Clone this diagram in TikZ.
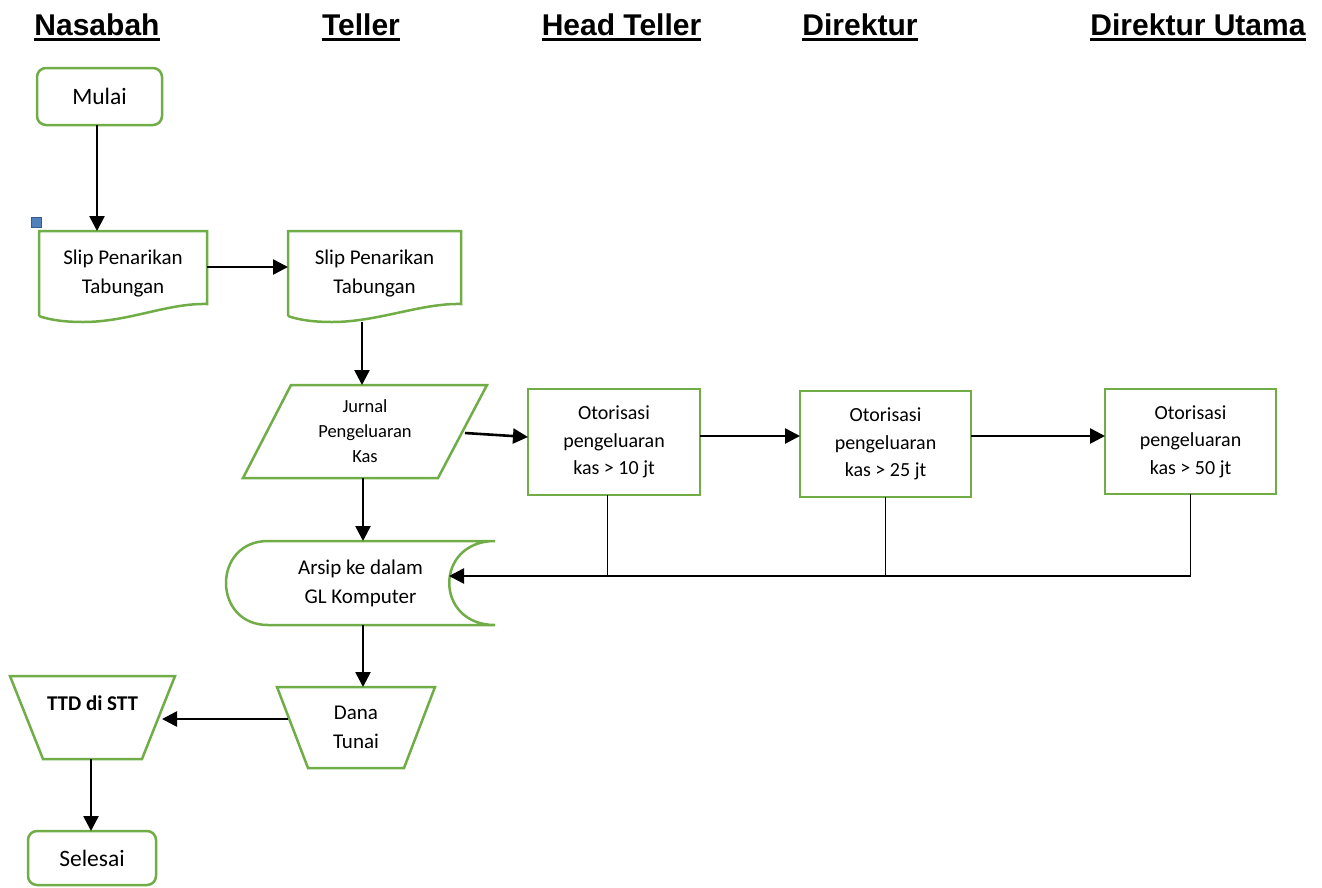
\documentclass[tikz,border=0pt]{standalone}
\usepackage{fontspec}
\setmainfont{Carlito}
\newfontfamily\headfont{Liberation Sans}
\usetikzlibrary{arrows.meta,calc}
\definecolor{grn}{RGB}{112,173,71}
\definecolor{hblue}{RGB}{79,129,189}
\definecolor{hblued}{RGB}{56,93,138}
\newcommand{\docpath}[1]{%
  \draw[gline] (#1.south west) -- (#1.north west) -- (#1.north east) -- ($(#1.south east)+(0,-12)$)
    .. controls ($(#1.south east)+(-40,-13)$) and ($(#1.south west)+(90,6)$) .. ($(#1.south west)+(44,6)$)
    .. controls ($(#1.south west)+(26,6)$) and ($(#1.south west)+(11,4)$) .. (#1.south west);}
\begin{document}
\begin{tikzpicture}[x=1pt,y=-1pt,
  hd/.style={font=\headfont\bfseries\fontsize{30}{36}\selectfont, inner sep=0pt, anchor=base},
  shp/.style={draw=none, inner sep=0pt, outer sep=0pt, align=center, font=\fontsize{21}{29}\selectfont},
  gline/.style={draw=grn, line width=2.5pt, line join=miter},
  term/.style={shp, draw=grn, line width=2.5pt, rounded corners=9pt, font=\fontsize{23.5}{29}\selectfont},
  proc/.style={shp, draw=grn, line width=2.5pt, font=\fontsize{20}{27.5}\selectfont},
  arr/.style={draw=black, line width=2.6pt, -{Triangle[length=15pt,width=15pt]}},
  thinln/.style={draw=black, line width=1pt}]
\useasboundingbox (0,0) rectangle (1322,887);

% headings
\node[hd] (h1) at (97,35) {Nasabah};
\node[hd] (h2) at (361,35) {Teller};
\node[hd] (h3) at (621.5,35) {Head Teller};
\node[hd] (h4) at (860,35) {Direktur};
\node[hd] (h5) at (1198,35) {Direktur Utama};
\foreach \h in {h1,h2,h3,h4,h5}
  \draw[line width=3pt] ($(\h.base west)+(0,4)$) -- ($(\h.base east)+(0,4)$);

% nodes
\node[term, minimum width=125pt, minimum height=57pt] (mulai) at (99.5,96.5) {Mulai};
\node[fill=hblue, draw=hblued, line width=0.8pt, minimum size=10pt, inner sep=0pt] (hdl) at (36.5,222.5) {};

\node[shp, minimum width=168pt, minimum height=85pt] (s1) at (123,273.5) {Slip Penarikan\\Tabungan};
\docpath{s1}
\node[shp, minimum width=173pt, minimum height=85pt] (s2) at (374.5,273.5) {Slip Penarikan\\Tabungan};
\docpath{s2}

\node[shp, minimum width=244pt, minimum height=93pt, font=\fontsize{18.5}{25}\selectfont] (jur) at (365,431.5) {Jurnal\\Pengeluaran\\Kas};
\draw[gline] ($(jur.north west)+(48,0)$) -- (jur.north east) -- ($(jur.south east)+(-49,0)$) -- (jur.south west) -- cycle;

\node[proc, minimum width=172pt, minimum height=106pt] (o1) at (614,442) {Otorisasi\\pengeluaran\\kas > 10 jt};
\node[proc, minimum width=171pt, minimum height=106pt] (o2) at (885.5,444) {Otorisasi\\pengeluaran\\kas > 25 jt};
\node[proc, minimum width=171pt, minimum height=105pt] (o3) at (1190.5,441.5) {Otorisasi\\pengeluaran\\kas > 50 jt};

\node[shp, minimum width=269pt, minimum height=84pt] (ars) at (360.5,583) {Arsip ke dalam\\GL Komputer};
\draw[gline] ($(ars.north west)+(42,0)$) -- (ars.north east)
  .. controls ($(ars.north east)+(-61,0)$) and ($(ars.south east)+(-61,0)$) .. (ars.south east)
  -- ($(ars.south west)+(42,0)$)
  .. controls ($(ars.south west)+(-14,0)$) and ($(ars.north west)+(-14,0)$) .. ($(ars.north west)+(42,0)$) -- cycle;

\node[shp, minimum width=158pt, minimum height=81pt] (dana) at (356,727.5) {Dana\\Tunai};
\draw[gline] (dana.north west) -- (dana.north east) -- ($(dana.south east)+(-31,0)$) -- ($(dana.south west)+(31,0)$) -- cycle;

\node[shp, minimum width=165pt, minimum height=83pt, font=\bfseries\fontsize{21}{29}\selectfont] (ttd) at (92.5,717.5) {TTD di STT\\\mbox{}};
\draw[gline] (ttd.north west) -- (ttd.north east) -- ($(ttd.south east)+(-33,0)$) -- ($(ttd.south west)+(33,0)$) -- cycle;

\node[term, minimum width=128pt, minimum height=54pt] (sel) at (92,858) {Selesai};

% connectors
\draw[arr] ($(mulai.south)+(-2.5,0)$) -- ($(mulai.south |- s1.north)+(-2.5,0)$);
\draw[arr] ($(s1.east)+(0,-6.5)$) -- ($(s2.west)+(0,-6.5)$);
\draw[arr] ($(s2.south -| jur.north)+(-3,6)$) -- ($(jur.north)+(-3,0)$);
\draw[arr] ($(jur.east)+(-22,1.5)$) -- ($(o1.west)+(0,-5)$);
\draw[arr] ($(o1.east)+(0,-6)$) -- ($(o2.west)+(0,-8)$);
\draw[arr] ($(o2.east)+(0,-8)$) -- ($(o3.west)+(0,-5.5)$);
\coordinate (bus) at (1190.5,576);
\draw[thinln] ($(o1.south)+(-7,0)$) -- ++(0,81);
\draw[thinln] (o2.south) -- ++(0,79);
\draw[thinln] (o3.south) -- (bus);
\draw[arr] (bus) -- ($(ars.east)+(-46,-7)$);
\draw[arr] ($(jur.south)+(-2,0)$) -- ($(jur.south |- ars.north)+(-2,0)$);
\draw[arr] ($(ars.south)+(2.5,0)$) -- ($(ars.south |- dana.north)+(2.5,0)$);
\draw[arr] ($(dana.west)+(11,-8.5)$) -- ($(ttd.east)+(-13,1.5)$);
\draw[arr] ($(ttd.south)+(-1.5,0)$) -- ($(ttd.south |- sel.north)+(-1.5,0)$);
\end{tikzpicture}
\end{document}
